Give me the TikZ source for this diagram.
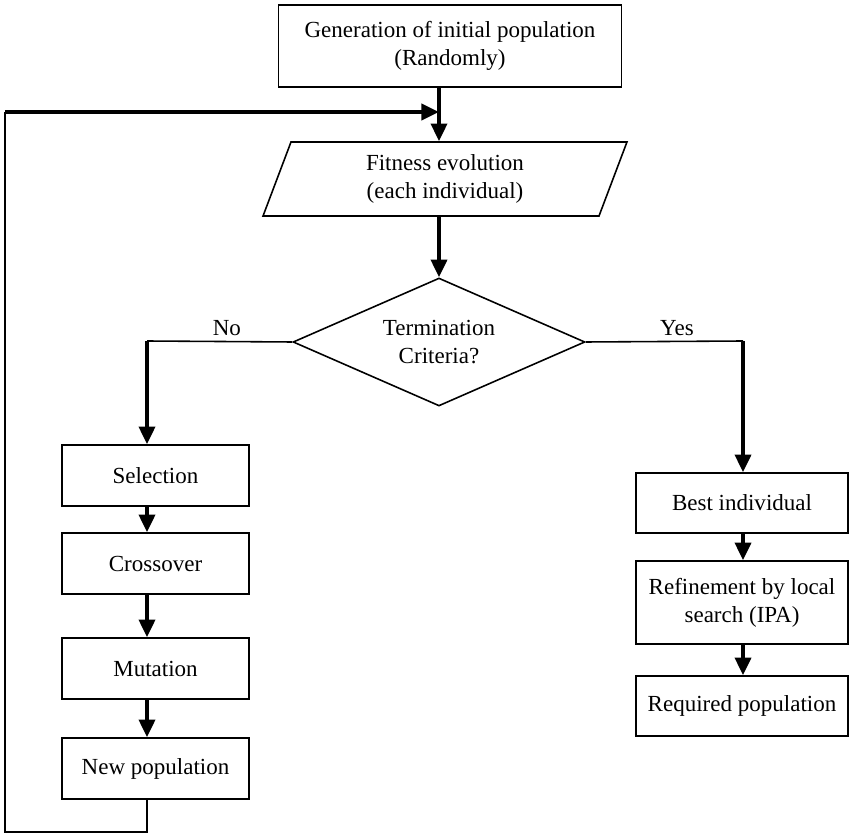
\documentclass[tikz,border=0pt]{standalone}
\usepackage{fontspec}
\setmainfont{Liberation Serif}
\usetikzlibrary{arrows.meta,shapes.geometric}

\newcommand\gatextstyle{\fontsize{13.1}{15.9}\selectfont}
\newcommand\gaboxwidth{3.74cm}
\newcommand\gaboxheight{1.22cm}
\newcommand\garightwidth{4.24cm}
\tikzset{
  gabox/.style={draw, line width=0.9pt, minimum width=\gaboxwidth, minimum height=\gaboxheight,
    inner sep=2pt, align=center, font=\gatextstyle},
  garight/.style={gabox, minimum width=\garightwidth},
  gaflow/.style={line width=2.3pt, -{Triangle[length=10pt,width=9pt]}},
  galink/.style={line width=0.9pt},
  galabel/.style={above, inner sep=3pt, font=\gatextstyle},
}

\begin{document}
\begin{tikzpicture}[x=0.02cm, y=-0.02cm]
  \useasboundingbox (0,0) rectangle (849,837);
  \node[gabox, minimum width=6.86cm, minimum height=1.64cm] (gen) at (450,46) {Generation of initial population\\(Randomly)};
  \node[gabox, trapezium, trapezium left angle=63.4, trapezium right angle=116.6, trapezium stretches body,
    minimum width=7.28cm, minimum height=1.48cm] (fit) at (445,179) {Fitness evolution\\(each individual)};
  \node[gabox, diamond, aspect=2.28, inner sep=0pt, minimum width=5.84cm, minimum height=2.56cm] (dec) at (439,342) {Termination\\Criteria?};
  \node[gabox] (sel) at (155.5,475.5) {Selection};
  \node[gabox] (cro) at (155.5,563.5) {Crossover};
  \node[gabox] (mut) at (155.5,668.5) {Mutation};
  \node[gabox] (newp) at (155.5,768.5) {New population};
  \node[garight, minimum height=1.2cm] (best) at (742,503) {Best individual};
  \node[garight, minimum height=1.66cm] (refine) at (742,602.5) {Refinement by local\\search (IPA)};
  \node[garight, minimum height=1.2cm] (req) at (742,706) {Required population};
  \coordinate (top) at (439,112);
  \coordinate (loop) at (5,112);
  \coordinate (loopend) at (5,832);
  \coordinate (no) at (147,341);
  \coordinate (yes) at (743,341);
  \draw[gaflow] (gen.south -| top) -- (fit.north -| top);
  \draw[gaflow] (fit.south -| top) -- (dec.north);
  \draw[galink] (dec.west) -- (no) node[galabel, pos=0.45] {No};
  \draw[galink] (dec.east) -- (yes) node[galabel, pos=0.58] {Yes};
  \draw[gaflow] (no) -- (sel.north -| no);
  \draw[gaflow] (sel.south -| no) -- (cro.north -| no);
  \draw[gaflow] (cro.south -| no) -- (mut.north -| no);
  \draw[gaflow] (mut.south -| no) -- (newp.north -| no);
  \draw[gaflow] (yes) -- (best.north -| yes);
  \draw[gaflow] (best.south -| yes) -- (refine.north -| yes);
  \draw[gaflow] (refine.south -| yes) -- (req.north -| yes);
  % back to the fitness step
  \draw[galink] (newp.south -| no) |- (loopend) -- (loop);
  \draw[gaflow] (loop) -- (top);
\end{tikzpicture}
\end{document}
